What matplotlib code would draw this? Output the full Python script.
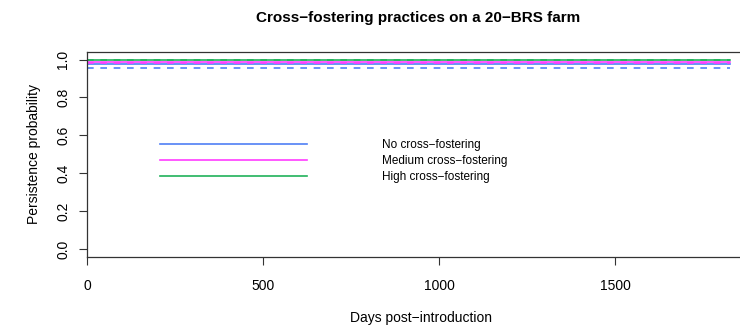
import numpy as np
import matplotlib
matplotlib.use('Agg')
import matplotlib.pyplot as plt

plt.rcParams['font.family'] = ['Liberation Sans', 'DejaVu Sans']

# time axis (days) and persistence estimates per scenario
days = [0, 1825]
labels = ['No cross\u2212fostering', 'Medium cross\u2212fostering',
          'High cross\u2212fostering']
colors = ['#4f7ff5', '#ff3cff', '#20b25a']
solid_vals = [0.978, 0.988, 0.997]    # central estimate
dashed_vals = [0.957, 0.981, 0.999]   # lower/upper bound lines
xticks = [0, 500, 1000, 1500]
yticks = [0.0, 0.2, 0.4, 0.6, 0.8, 1.0]

fig = plt.figure(figsize=(7.4, 3.3), dpi=100)
# right spine sits past the figure edge (cropped like the original)
ax = fig.add_axes([87 / 740, 1 - 256.6 / 330, (756 - 87) / 740,
                   (256.6 - 52) / 330])

handles = []
for lab, col, sv, dv in zip(labels, colors, solid_vals, dashed_vals):
    h, = ax.plot(days, [sv, sv], color=col, lw=1.2, label=lab)
    ax.plot(days, [dv, dv], color=col, lw=1.2, ls=(0, (4, 4)))
    handles.append(h)

ax.set_xlim(0, 1900)
ax.set_ylim(-0.04, 1.04)
ax.set_xticks(xticks)
ax.set_xticklabels([str(t) for t in xticks], fontsize=10)
ax.set_yticks(yticks)
ax.set_yticklabels([f'{t:.1f}' for t in yticks], fontsize=10, rotation=90,
                   va='center')
ax.tick_params(direction='out', length=6, width=0.8, color='#333333')
ax.tick_params(axis='x', pad=10)
ax.tick_params(axis='y', pad=6)
for s in ax.spines.values():
    s.set_color('#333333')
    s.set_linewidth(0.9)

ax.set_xlabel('Days post\u2212introduction', fontsize=10, labelpad=13)
ax.set_ylabel('Persistence probability', fontsize=10, labelpad=11)
fig.text(418 / 740, 1 - 18 / 330, 'Cross\u2212fostering practices on a 20\u2212BRS farm',
         ha='center', va='center', fontsize=11, fontweight='bold')

leg = ax.legend(handles=handles, loc='upper left', frameon=False,
                fontsize=8.5, handlelength=12.5, handletextpad=6.3,
                labelspacing=0.34, borderaxespad=0,
                bbox_to_anchor=(155 / 740, 1 - 134 / 330),
                bbox_transform=fig.transFigure)

fig.savefig('out.png', dpi=100)
